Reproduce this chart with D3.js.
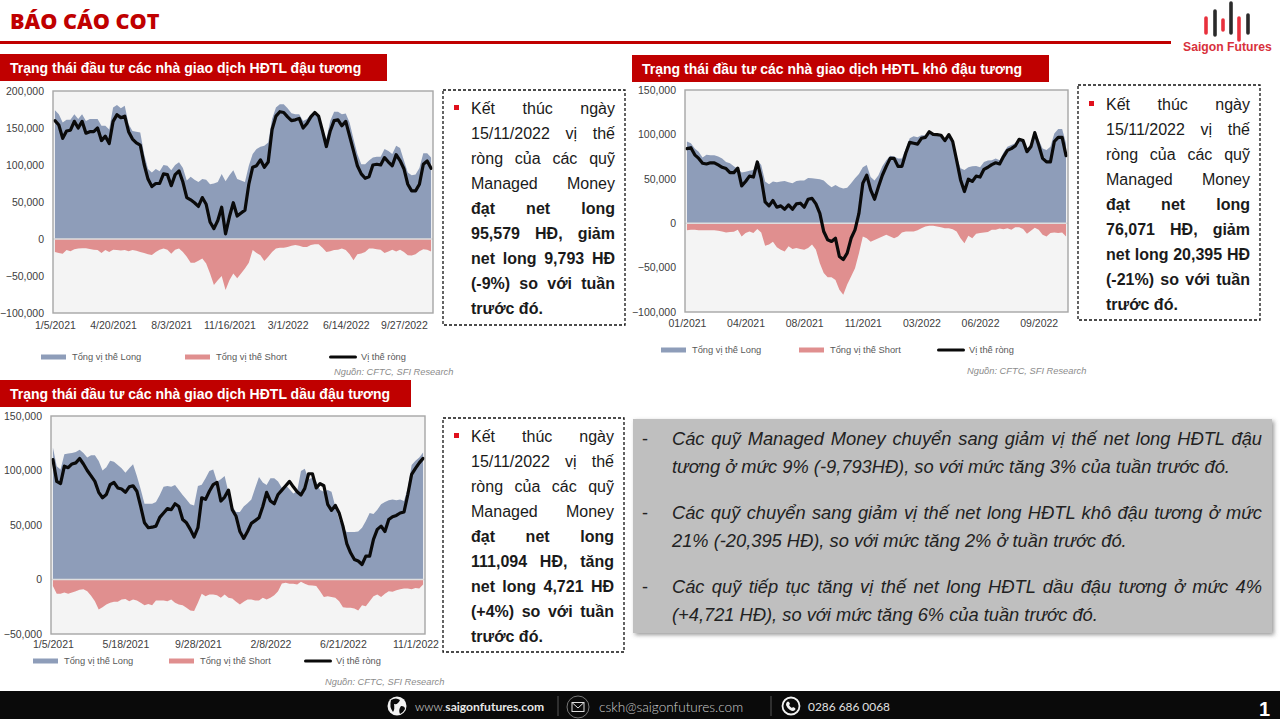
<!DOCTYPE html>
<html>
<head>
<meta charset="utf-8">
<script src="https://cdnjs.cloudflare.com/ajax/libs/d3/7.8.5/d3.min.js"></script>
<style>
  html, body { margin: 0; padding: 0; background: #fff; width: 1280px; height: 719px; overflow: hidden; }
  body { position: relative; font-family: "Liberation Sans", Arial, sans-serif; }
  svg { position: absolute; left: 0; top: 0; }
  .line { position: absolute; white-space: nowrap; }
  .just { text-align: justify; text-align-last: justify; white-space: normal; }
</style>
</head>
<body>
<script>
// weekly COT reports, 1/5/2021 .. 11/15/2022
const weekCount = 98;

// soybeans
const soyLong = [
  174000,168600,157400,161000,161000,168600,162000,168600,159600,162000,
  162000,162000,153000,153000,148000,177600,181000,176700,180000,155000,
  146000,145000,144000,115000,94600,90000,94600,91500,100000,99000,
  93000,100000,103600,96000,79000,84000,80000,77000,81000,80000,
  74000,75000,77000,88000,78000,86000,93000,81000,79000,77000,
  99000,115000,121500,124700,126000,130500,162000,177600,182000,182000,
  176700,170000,168600,168600,159600,162000,168600,171000,165000,150000,
  135000,159600,172000,172000,168600,169500,157000,135000,115000,101000,
  101000,106000,110000,111000,111000,121500,119000,115000,126000,123000,
  106000,90000,86000,87000,96000,116000,116000,110000];
const soyShort = [
  -17500,-19000,-20000,-15000,-16500,-14000,-13000,-12500,-12500,-13500,
  -14500,-15000,-19000,-15000,-17500,-14500,-15000,-15500,-15000,-16500,
  -15000,-16000,-17500,-19000,-20500,-21500,-17500,-14500,-13000,-14500,
  -20000,-14500,-13000,-17500,-24000,-32000,-32000,-29500,-26500,-33000,
  -46600,-62000,-55600,-50000,-69000,-55600,-46600,-53000,-46600,-40000,
  -32000,-15000,-19000,-22000,-29600,-24000,-17500,-13000,-11700,-11700,
  -10800,-9000,-8000,-9000,-10800,-10800,-8000,-7000,-7000,-11700,
  -17500,-16500,-15000,-14500,-13000,-15000,-20600,-28700,-20600,-19700,
  -17500,-13000,-13000,-14000,-14500,-19000,-17000,-14500,-17000,-14500,
  -17500,-22000,-22400,-20600,-16500,-14000,-14500,-17000];
const soyNet = [
  160000,154000,136000,146000,147000,159000,150000,159000,143000,145000,
  145000,150000,133000,139000,129000,159000,168000,164000,166000,145000,
  135000,130000,127000,101000,81000,71000,75000,75000,88000,87000,
  72000,87000,92000,77000,56000,53000,49000,44000,56000,47000,
  23000,14000,25000,43000,7000,30000,49000,31000,35000,39000,
  74000,97000,99000,107000,97000,104000,148000,166000,172000,171000,
  165000,160000,161000,163000,150000,156000,165000,171000,166000,146000,
  125000,146000,160000,161000,153000,159000,139000,119000,99000,88000,
  82000,84000,100000,101000,100000,110000,104000,99000,114000,106000,
  95000,74000,65000,65000,74000,101000,105372,95579];

// soybean meal
const mealLong = [
  92000,90000,84000,80600,74000,77000,76500,76500,75000,73000,
  69000,67500,64000,61000,57000,58000,59000,60000,71000,65600,
  47000,44000,47000,46000,47000,47600,46000,45000,47600,48000,
  48000,51000,50600,50000,49500,48000,44000,40500,43000,40500,
  39000,40000,45000,50600,55500,63000,65600,52000,48000,54000,
  64000,71000,76000,75000,73000,73000,84000,95600,98000,96700,
  99000,99000,103000,100000,99700,99000,93700,99700,95600,75000,
  62000,60000,63000,64000,64500,63000,69000,70500,71000,73000,
  71000,79500,86000,88000,90000,95600,93700,84000,89000,103000,
  93700,84000,82500,86000,101000,106000,106000,90000];
const mealShort = [
  -8000,-7500,-7500,-8000,-8000,-8000,-8000,-8000,-8600,-9400,
  -10500,-10000,-9700,-7500,-15000,-11000,-9400,-11000,-6400,-10500,
  -25500,-24000,-21000,-27000,-30000,-32000,-26000,-29000,-28000,-29000,
  -30000,-28000,-24000,-30000,-45000,-56000,-61000,-61000,-64000,-75000,
  -80600,-69000,-60000,-50600,-34000,-15000,-17000,-21000,-19000,-17000,
  -15000,-13000,-15000,-17000,-15000,-10500,-9400,-9400,-9400,-8000,
  -5600,-3700,-3000,-3000,-3700,-4500,-5600,-5600,-6700,-9400,
  -17000,-22500,-14000,-17000,-12000,-11000,-10500,-10000,-7500,-7500,
  -6000,-6700,-5600,-7500,-4500,-4500,-6400,-12000,-8600,-5000,
  -7500,-13000,-15000,-11000,-10500,-11000,-10500,-15000];
const mealNet = [
  84000,85000,77000,73000,67500,66700,68000,68000,65600,63000,
  61500,57000,57000,62000,42000,47000,53000,52000,69000,50600,
  24000,19500,25500,18000,19500,15700,20600,15700,21700,22500,
  18000,27000,28000,21700,11000,-9400,-18700,-20600,-17000,-37500,
  -41000,-33700,-17000,-7500,11000,45000,54000,37500,27000,41000,
  54000,64000,73000,73000,64000,64000,79000,91000,90000,89000,
  95600,96700,103000,100000,99700,99000,93000,99700,92000,71000,
  49000,35600,49500,47000,53000,52000,60700,63000,66000,68000,
  66700,75000,82000,84000,87000,94500,93000,80600,86000,102000,
  88000,73000,69000,69000,92000,96700,96700,76071];

// soybean oil
const oilLong = [
  121000,104000,101000,115000,115500,116000,117000,119000,116000,112000,
  114000,114000,108700,100000,103000,109000,108000,105000,102000,98000,
  102000,105700,95000,82700,69500,69500,69500,71000,77500,85000,
  85800,85000,86700,82000,77500,73500,69000,68000,85800,87000,
  93000,99500,101000,90000,92000,95000,80000,67000,62000,62000,
  67000,70000,73500,84000,94000,89000,86700,93000,93000,90000,
  84000,86700,82700,79000,81000,99500,101700,92000,93400,90000,
  82000,80500,82000,80500,67000,55000,47500,43500,43500,43500,
  44000,47500,53600,61000,60000,64000,69000,71000,72600,73500,
  72600,73500,72000,84000,105000,109000,112000,116400];
const oilShort = [
  -6000,-13000,-13000,-12000,-13000,-12000,-10700,-9500,-9000,-10700,
  -15000,-20000,-27600,-25400,-23000,-21400,-20500,-20500,-18400,-17800,
  -20000,-18400,-19300,-21400,-23600,-22400,-23600,-19300,-19300,-19300,
  -20000,-18400,-21400,-23000,-23600,-26000,-28500,-29000,-21400,-13000,
  -15300,-13800,-13800,-14400,-16800,-13800,-16800,-17500,-20500,-23000,
  -20500,-18400,-18400,-19300,-19300,-16800,-18400,-16800,-14400,-10700,
  -3700,-3000,-4000,-4000,-4600,-2000,-4000,-5200,-5500,-6000,
  -10700,-16000,-15300,-16000,-16800,-20000,-25400,-26000,-26000,-26600,
  -28500,-23600,-24500,-20000,-15300,-13800,-16000,-13000,-10700,-11300,
  -9800,-9000,-8300,-8300,-8900,-7700,-8300,-4600];
const oilNet = [
  110000,90000,88000,104000,102600,106000,107000,111000,106000,100000,
  95000,90000,80000,75000,78000,87000,89000,84000,83000,80000,
  85000,86000,81000,67000,52000,47500,48000,49000,57000,61000,
  65000,64000,69500,67000,55000,52000,46000,39000,47500,75000,
  73500,81000,87000,89000,72000,75600,82000,64000,58000,44000,
  37700,44000,51500,54000,56700,67000,80000,72000,69500,78000,
  82000,86000,90000,85000,80500,77500,83600,97000,97000,84000,
  88000,86000,69000,63400,68000,61000,49000,33000,24500,18400,
  17000,13800,21400,21400,36800,46000,49000,44000,55000,57600,
  58800,61000,62000,78000,96500,102000,107000,111094];

const yTicksSoy = [-100000, -50000, 0, 50000, 100000, 150000, 200000];
const yTicksMeal = [-100000, -50000, 0, 50000, 100000, 150000];
const yTicksOil = [-50000, 0, 50000, 100000, 150000];
const xLabelsSoy = ["1/5/2021", "4/20/2021", "8/3/2021", "11/16/2021", "3/1/2022", "6/14/2022", "9/27/2022"];
const xLabelsMeal = ["01/2021", "04/2021", "08/2021", "11/2021", "03/2022", "06/2022", "09/2022"];
const xLabelsOil = ["1/5/2021", "5/18/2021", "9/28/2021", "2/8/2022", "6/21/2022", "11/1/2022"];
const legendNames = ["Tổng vị thế Long", "Tổng vị thế Short", "Vị thế ròng"];

const RED = "#c00000", LONG = "#8e9db9", SHORT = "#e08f8f";

const svg = d3.select("body").append("svg").attr("width", 1280).attr("height", 719);

function drawChart(o) {
  const x = d3.scalePoint().domain(d3.range(weekCount)).range([o.left, o.right]).padding(0.5);
  const y = d3.scaleLinear().domain([o.yTicks[0], o.yTicks[o.yTicks.length - 1]]).range([o.bottom, o.top]);
  const g = svg.append("g");

  g.append("rect").attr("x", o.left).attr("y", o.top)
    .attr("width", o.right - o.left).attr("height", o.bottom - o.top).attr("fill", "#f4f4f4");

  const area = vals => d3.area().x((d, i) => x(i)).y0(y(0)).y1(d => y(d))(vals);
  g.append("path").attr("d", area(o.long)).attr("fill", LONG);
  g.append("path").attr("d", area(o.short)).attr("fill", SHORT);
  g.append("line").attr("x1", o.left).attr("x2", o.right).attr("y1", y(0)).attr("y2", y(0))
    .attr("stroke", "#dedede").attr("stroke-width", 1.4);
  g.append("path")
    .attr("d", d3.line().x((d, i) => x(i)).y(d => y(d))(o.net))
    .attr("fill", "none").attr("stroke", "#0a0a0a").attr("stroke-width", 3.2)
    .attr("stroke-linejoin", "round").attr("stroke-linecap", "round");
  g.append("rect").attr("x", o.left).attr("y", o.top)
    .attr("width", o.right - o.left).attr("height", o.bottom - o.top)
    .attr("fill", "none").attr("stroke", "#a6a6a6").attr("stroke-width", 1.4);

  const yAxis = d3.axisLeft(y).tickValues(o.yTicks).tickFormat(d3.format(",")).tickSize(0).tickPadding(9);
  const xAxis = d3.axisBottom(x).tickValues(d3.range(0, weekCount, o.xStep))
    .tickFormat((d, i) => o.xLabels[i]).tickSize(0).tickPadding(o.xPad);
  [g.append("g").attr("transform", `translate(${o.left},0)`).call(yAxis),
   g.append("g").attr("transform", `translate(0,${o.bottom})`).call(xAxis)].forEach(a => {
    a.select(".domain").remove();
    a.selectAll("text").attr("fill", "#404040").attr("font-size", 10.5).attr("font-family", "Liberation Sans");
  });

  // legend
  const colors = [LONG, SHORT, "#0a0a0a"];
  legendNames.forEach((name, i) => {
    const lx = o.legendX[i];
    g.append("rect").attr("x", lx).attr("y", o.legendY - (i == 2 ? 1.5 : 2.5))
      .attr("width", i == 2 ? 28 : 25).attr("height", i == 2 ? 3 : 5)
      .attr("rx", i == 2 ? 1.5 : 0).attr("fill", colors[i]);
    g.append("text").attr("x", lx + (i == 2 ? 32 : 31)).attr("y", o.legendY + 3)
      .attr("font-size", 9.3).attr("fill", "#595959").text(name);
  });
  g.append("text").attr("x", o.srcX).attr("y", o.srcY).attr("font-size", 9.3)
    .attr("font-style", "italic").attr("fill", "#8c8c8c").text("Nguồn: CFTC, SFI Research");
}

drawChart({ left: 53, right: 433, top: 91, bottom: 313, yTicks: yTicksSoy, xLabels: xLabelsSoy, xStep: 15, xPad: 8.5,
  long: soyLong, short: soyShort, net: soyNet, legendX: [41, 185, 329], legendY: 357, srcX: 334, srcY: 375 });
drawChart({ left: 685, right: 1068, top: 90, bottom: 312, yTicks: yTicksMeal, xLabels: xLabelsMeal, xStep: 15, xPad: 7.5,
  long: mealLong, short: mealShort, net: mealNet, legendX: [661, 799, 937], legendY: 350, srcX: 967, srcY: 374 });
drawChart({ left: 51, right: 425, top: 416, bottom: 634, yTicks: yTicksOil, xLabels: xLabelsOil, xStep: 19, xPad: 7,
  long: oilLong, short: oilShort, net: oilNet, legendX: [33, 169, 304], legendY: 661, srcX: 325, srcY: 685 });

// title bars
[[0, 54, 387, "Trạng thái đầu tư các nhà giao dịch HĐTL đậu tương", 10],
 [632, 55, 417, "Trạng thái đầu tư các nhà giao dịch HĐTL khô đậu tương", 642],
 [0, 380, 411, "Trạng thái đầu tư các nhà giao dịch HĐTL dầu đậu tương", 10]].forEach(t => {
  svg.append("rect").attr("x", t[0]).attr("y", t[1]).attr("width", t[2]).attr("height", 27).attr("fill", RED);
  svg.append("text").attr("x", t[4]).attr("y", t[1] + 19).attr("fill", "#fff")
    .attr("font-size", 14).attr("font-weight", 700).text(t[3]);
});

// header
svg.append("text").attr("x", 10).attr("y", 29).attr("font-family", "Open Sans").attr("font-weight", 800)
  .attr("font-size", 21.6).attr("fill", "#c00000").text("BÁO CÁO COT");
svg.append("rect").attr("x", 0).attr("y", 41).attr("width", 1171).attr("height", 3).attr("fill", RED);
[[1206, 18, 33, "#e8303c"], [1215, 11, 35, "#2a2a2a"], [1223, 20, 30, "#e8303c"], [1231, 3, 33, "#2a2a2a"],
 [1239, 18, 40, "#e8303c"], [1248, 15, 33, "#2a2a2a"]].forEach(b => {
  svg.append("line").attr("x1", b[0]).attr("x2", b[0]).attr("y1", b[1]).attr("y2", b[2])
    .attr("stroke", b[3]).attr("stroke-width", 3.6).attr("stroke-linecap", "round");
});
svg.append("text").attr("x", 1183).attr("y", 51).attr("font-size", 12.2).attr("font-weight", 700)
  .attr("fill", "#d8313c").text("Saigon Futures");

// dashed boxes
const boxLines = [
  ["Kết thúc ngày", "15/11/2022 vị thế", "ròng của các quỹ", "Managed Money", "<b>đạt net long</b>",
   "<b>95,579 HĐ, giảm</b>", "<b>net long 9,793 HĐ</b>", "<b>(-9%) so với tuần</b>", "<b>trước đó.</b>"],
  ["Kết thúc ngày", "15/11/2022 vị thế", "ròng của các quỹ", "Managed Money", "<b>đạt net long</b>",
   "<b>76,071 HĐ, giảm</b>", "<b>net long 20,395 HĐ</b>", "<b>(-21%) so với tuần</b>", "<b>trước đó.</b>"],
  ["Kết thúc ngày", "15/11/2022 vị thế", "ròng của các quỹ", "Managed Money", "<b>đạt net long</b>",
   "<b>111,094 HĐ, tăng</b>", "<b>net long 4,721 HĐ</b>", "<b>(+4%) so với tuần</b>", "<b>trước đó.</b>"]];
[[443, 90, 182, 235, 108], [1078, 85, 182, 235, 104], [443, 418, 181, 234, 436]].forEach((b, k) => {
  svg.append("rect").attr("x", b[0]).attr("y", b[1]).attr("width", b[2]).attr("height", b[3])
    .attr("fill", "#fff").attr("stroke", "#111").attr("stroke-width", 1.3).attr("stroke-dasharray", "3,2");
  svg.append("rect").attr("x", b[0] + 11).attr("y", b[4] - 3).attr("width", 5).attr("height", 5).attr("fill", "#e0101c");
  boxLines[k].forEach((txt, i) => {
    d3.select("body").append("div").attr("class", i < 8 ? "line just" : "line")
      .style("left", (b[0] + 28) + "px").style("top", (b[4] - 12 + i * 25) + "px")
      .style("width", (b[2] - 38) + "px").style("font-size", "16px").style("line-height", "25px")
      .style("color", "#1a1a1a").html(txt);
  });
});

// grey comment panel
const panelLines = [
  ["Các quỹ Managed Money chuyển sang giảm vị thế net long HĐTL đậu", "tương ở mức 9% (-9,793HĐ), so với mức tăng 3% của tuần trước đó."],
  ["Các quỹ chuyển sang giảm vị thế net long HĐTL khô đậu tương ở mức", "21% (-20,395 HĐ), so với mức tăng 2% ở tuần trước đó."],
  ["Các quỹ tiếp tục tăng vị thế net long HĐTL dầu đậu tương ở mức 4%", "(+4,721 HĐ), so với mức tăng 6% của tuần trước đó."]];
const defs = svg.append("defs");
defs.append("filter").attr("id", "shadow").attr("x", "-5%").attr("y", "-5%").attr("width", "110%").attr("height", "110%")
  .append("feDropShadow").attr("dx", 2).attr("dy", 2).attr("stdDeviation", 2).attr("flood-color", "#555").attr("flood-opacity", 0.6);
svg.append("rect").attr("x", 633).attr("y", 419).attr("width", 639).attr("height", 214)
  .attr("fill", "#bfbfbf").attr("filter", "url(#shadow)");
panelLines.forEach((pair, k) => {
  const top = 439 + k * 74;
  svg.append("text").attr("x", 642).attr("y", top + 6).attr("font-size", 18).attr("fill", "#222").text("-");
  pair.forEach((txt, i) => {
    d3.select("body").append("div").attr("class", i == 0 ? "line just" : "line")
      .style("left", "672px").style("top", (top - 14 + i * 28) + "px").style("width", "590px")
      .style("font-size", "18.3px").style("line-height", "28px").style("font-style", "italic")
      .style("color", "#222").text(txt);
  });
});

// footer
svg.append("rect").attr("x", 0).attr("y", 691).attr("width", 1280).attr("height", 28).attr("fill", "#0a0a0a");
const footer = svg.append("g").attr("fill", "#e8e8e8").attr("font-family", "Lato");
footer.append("circle").attr("cx", 397).attr("cy", 706).attr("r", 9.5).attr("fill", "#f2f2f2");
footer.append("path").attr("d", "M391 700 q5 -3 9 0 q-2 5 -6 4 q1 5 -1 8 q-4 -5 -2 -12z M401 706 q4 0 4 3 q-2 4 -5 5 q-2 -4 1 -8z").attr("fill", "#0a0a0a");
footer.append("text").attr("x", 415).attr("y", 711).attr("font-size", 12.1).html('<tspan font-weight="300">www.</tspan><tspan font-weight="700">saigonfutures.com</tspan>');
[558, 771].forEach(dx => footer.append("line").attr("x1", dx).attr("x2", dx).attr("y1", 696).attr("y2", 716).attr("stroke", "#555"));
footer.append("circle").attr("cx", 578).attr("cy", 707).attr("r", 11).attr("fill", "none").attr("stroke", "#777");
footer.append("rect").attr("x", 572).attr("y", 702.5).attr("width", 12).attr("height", 9).attr("fill", "none").attr("stroke", "#ddd");
footer.append("path").attr("d", "M572 702.5 L578 708 L584 702.5").attr("fill", "none").attr("stroke", "#ddd");
footer.append("text").attr("x", 599).attr("y", 712).attr("font-size", 13.6).attr("font-weight", 300).attr("fill", "#cfcfcf").text("cskh@saigonfutures.com");
footer.append("circle").attr("cx", 791).attr("cy", 706).attr("r", 8.5).attr("fill", "none").attr("stroke", "#f2f2f2").attr("stroke-width", 1.8);
footer.append("path").attr("d", "M787 702 q1 -1 2 0 l1 2 -1 1 q1 2 3 3 l1 -1 2 1 q1 1 0 2 q-2 2 -5 0 q-3 -2 -4 -5 q0 -2 1 -3z").attr("fill", "#f2f2f2");
footer.append("text").attr("x", 808).attr("y", 711).attr("font-size", 11.9).attr("fill", "#e0e0e0").text("0286 686 0068");
svg.append("text").attr("x", 1259).attr("y", 716).attr("font-size", 20).attr("font-weight", 700).attr("fill", "#fff").text("1");
</script>
</body>
</html>
